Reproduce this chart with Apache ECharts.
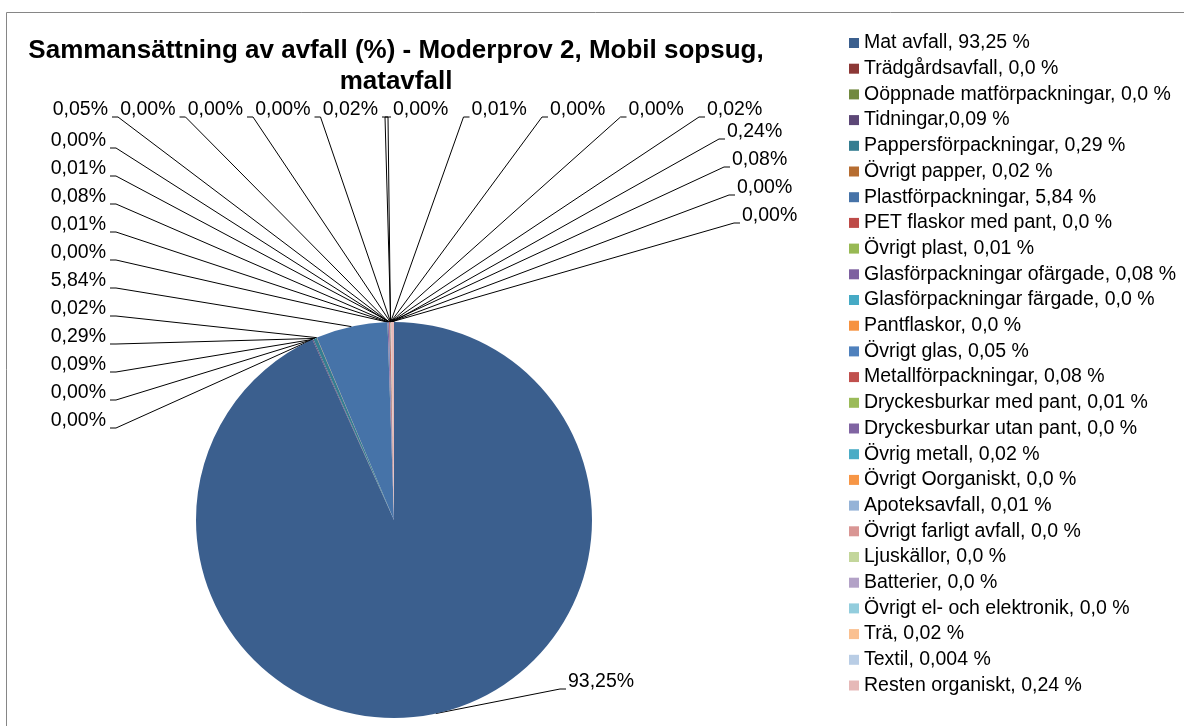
<!DOCTYPE html>
<html>
<head>
<meta charset="utf-8">
<script src="https://cdn.jsdelivr.net/npm/echarts@6/dist/echarts.min.js"></script>
<style>
html, body { margin: 0; padding: 0; background: #fff; }
#chart { width: 1184px; height: 726px; }
</style>
</head>
<body>
<div id="chart"></div>
<script>
// kategorier, som de står i förklaringen
var categories = [
  'Mat avfall, 93,25 %',
  'Trädgårdsavfall, 0,0 %',
  'Oöppnade matförpackningar, 0,0 %',
  'Tidningar,0,09 %',
  'Pappersförpackningar, 0,29 %',
  'Övrigt papper, 0,02 %',
  'Plastförpackningar, 5,84 %',
  'PET flaskor med pant, 0,0 %',
  'Övrigt plast, 0,01 %',
  'Glasförpackningar ofärgade, 0,08 %',
  'Glasförpackningar färgade, 0,0 %',
  'Pantflaskor, 0,0 %',
  'Övrigt glas, 0,05 %',
  'Metallförpackningar, 0,08 %',
  'Dryckesburkar med pant, 0,01 %',
  'Dryckesburkar utan pant, 0,0 %',
  'Övrig metall, 0,02 %',
  'Övrigt Oorganiskt, 0,0 %',
  'Apoteksavfall, 0,01 %',
  'Övrigt farligt avfall, 0,0 %',
  'Ljuskällor, 0,0 %',
  'Batterier, 0,0 %',
  'Övrigt el- och elektronik, 0,0 %',
  'Trä, 0,02 %',
  'Textil, 0,004 %',
  'Resten organiskt, 0,24 %'
];
var values = [93.25, 0, 0, 0.09, 0.29, 0.02, 5.84, 0, 0.01, 0.08, 0, 0, 0.05,
  0.08, 0.01, 0, 0.02, 0, 0.01, 0, 0, 0, 0, 0.02, 0.004, 0.24];

var colors = [
  '#3B5F8E', '#8C3836', '#71893F', '#5C4776', '#357D91', '#B66D31',
  '#4673A8', '#BE4B48', '#98B954', '#7D60A0', '#46AAC5', '#F69240',
  '#4F81BD', '#C0504D', '#9BBB59', '#8064A2', '#4BACC6', '#F79646',
  '#95B3D7', '#D99694', '#C3D69B', '#B3A2C7', '#93CDDD', '#FAC090',
  '#B9CDE5', '#E6B9B8'
];

// vilken etikettplats varje tårtbit hamnar på (som i Excel)
var labelSlot = [0, 1, 2, 3, 4, 5, 6, 7, 8, 9, 11, 13, 12, 23, 10, 14, 16, 15, 18, 17, 19, 20, 24, 21, 25, 22];

function slotPos(s) {
  if (s === 0) return { x: 568, y: 682, align: 'left' };
  if (s <= 11) return { x: 106, y: 421 - 28 * (s - 1), align: 'right' };
  if (s <= 16) return { x: 108 + 67.5 * (s - 12), y: 110, align: 'right' };
  if (s <= 21) return { x: 393 + 78.5 * (s - 17), y: 110, align: 'left' };
  return { x: 727 + 5 * (s - 22), y: 132 + 28 * (s - 22), align: 'left' };
}

function fmt(v) {
  return v.toFixed(2).replace('.', ',') + '%';
}

var chart = echarts.init(document.getElementById('chart'));

var option = {
  animation: false,
  color: colors,
  graphic: [{
    type: 'rect',
    silent: true,
    shape: { x: 6.5, y: 12.5, width: 1200, height: 800 },
    style: { fill: 'none', stroke: '#868686', lineWidth: 1 }
  }],
  title: {
    text: 'Sammansättning av avfall (%) - Moderprov 2, Mobil sopsug,\nmatavfall',
    left: 396,
    top: 35,
    padding: 0,
    textAlign: 'center',
    textStyle: {
      fontFamily: 'Liberation Sans',
      fontWeight: 'bold',
      fontSize: 26,
      lineHeight: 31,
      color: '#000'
    }
  },
  legend: {
    orient: 'vertical',
    left: 849,
    top: 33,
    padding: 0,
    itemWidth: 10,
    itemHeight: 10,
    itemGap: 5.7,
    icon: 'rect',
    selectedMode: false,
    textStyle: { fontFamily: 'Liberation Sans', fontSize: 19.5, lineHeight: 20, color: '#000' },
    data: categories
  },
  series: [{
    type: 'pie',
    center: [394, 520],
    radius: 198,
    startAngle: 90,
    clockwise: true,
    avoidLabelOverlap: false,
    silent: true,
    itemStyle: { borderWidth: 0 },
    label: {
      show: true,
      position: 'outside',
      fontFamily: 'Liberation Sans',
      fontSize: 19.5,
      color: '#000',
      formatter: function (p) { return fmt(p.value); }
    },
    labelLine: {
      show: true,
      length: 10,
      length2: 10,
      lineStyle: { color: '#000', width: 1 }
    },
    labelLayout: function (p) {
      var pos = slotPos(labelSlot[p.dataIndex]);
      var a = p.labelLinePoints ? p.labelLinePoints[0] : [pos.x, pos.y];
      var ly = pos.y + 7;
      var pts = pos.align === 'right'
        ? [a, [pos.x + 10, ly], [pos.x + 4, ly]]
        : [a, [pos.x - 8, ly], [pos.x - 2, ly]];
      return { x: pos.x, y: pos.y, align: pos.align, verticalAlign: 'middle', labelLinePoints: pts };
    },
    data: categories.map(function (c, i) { return { name: c, value: values[i] }; })
  }]
};

chart.setOption(option);
</script>
</body>
</html>
